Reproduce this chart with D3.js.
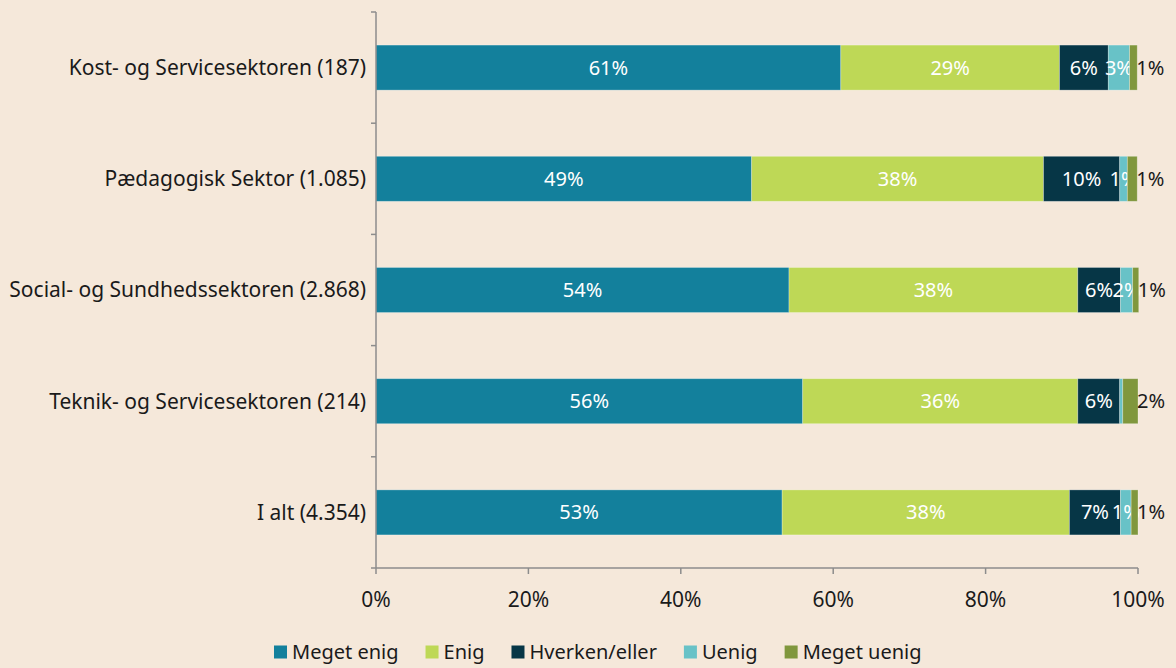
<!DOCTYPE html>
<html lang="da">
<head>
<meta charset="utf-8">
<title>Stacked bar</title>
<script src="https://d3js.org/d3.v7.min.js"></script>
<style>
  html, body { margin: 0; padding: 0; background: #f5e8da; }
  svg { display: block; font-family: "Noto Sans", "Open Sans", sans-serif; }
</style>
</head>
<body>
<div id="chart"></div>
<script>
// categories, top to bottom
var categories = ["Kost- og Servicesektoren (187)", "Pædagogisk Sektor (1.085)",
  "Social- og Sundhedssektoren (2.868)", "Teknik- og Servicesektoren (214)", "I alt (4.354)"];
var seriesNames = ["Meget enig", "Enig", "Hverken/eller", "Uenig", "Meget uenig"];
var megetEnig  = [61.0, 49.3, 54.2, 56.0, 53.3];
var enig       = [28.7, 38.3, 37.9, 36.1, 37.7];
var hverken    = [6.4, 10.0, 5.6, 5.5, 6.7];
var uenig      = [2.8, 1.0, 1.6, 0.4, 1.4];
var megetUenig = [1.0, 1.3, 0.8, 2.0, 0.9];
var xTicks = [0, 20, 40, 60, 80, 100];
var colors = ["#13809c", "#bed856", "#063646", "#68c2c7", "#80973d"];

var width = 1176, height = 668;
var margin = {left: 376, right: 38, top: 12, bottom: 100};

var rows = categories.map(function(c, i) {
  return {cat: c, "Meget enig": megetEnig[i], "Enig": enig[i], "Hverken/eller": hverken[i],
          "Uenig": uenig[i], "Meget uenig": megetUenig[i]};
});

var svg = d3.select("#chart").append("svg")
  .attr("width", width).attr("height", height);

var x = d3.scaleLinear().domain([0, 100]).range([margin.left, width - margin.right]);
var y = d3.scaleBand().domain(categories)
  .range([margin.top, height - margin.bottom])
  .paddingInner(0.595).paddingOuter(0.2975);

var stack = d3.stack().keys(seriesNames)(rows);

var layers = svg.selectAll("g.layer").data(stack).enter().append("g")
  .attr("class", "layer")
  .attr("fill", function(d, i) { return colors[i]; });

layers.selectAll("rect").data(function(d) { return d; }).enter().append("rect")
  .attr("x", function(d) { return x(d[0]); })
  .attr("y", function(d) { return y(d.data.cat); })
  .attr("width", function(d) { return x(d[1]) - x(d[0]); })
  .attr("height", y.bandwidth())
  .attr("stroke", "rgba(255,255,255,0.35)")
  .attr("stroke-width", 0.8);

// data labels
layers.each(function(layer, li) {
  d3.select(this).selectAll("text").data(layer.filter(function(d) { return d[1] - d[0] >= 0.5; }))
    .enter().append("text")
    .attr("x", function(d) { return li === 4 ? x(d[1]) - 1 : (x(d[0]) + x(d[1])) / 2; })
    .attr("y", function(d) { return y(d.data.cat) + y.bandwidth() / 2; })
    .attr("dy", "0.35em")
    .attr("text-anchor", li === 4 ? "start" : "middle")
    .attr("fill", li === 4 ? "#1a1a1a" : "#ffffff")
    .attr("font-size", 20)
    .text(function(d) { return Math.round(d[1] - d[0]) + "%"; });
});

// axes
var axisColor = "#8c8c8c";
var y0 = height - margin.bottom;
svg.append("line").attr("x1", x(0)).attr("x2", x(0)).attr("y1", margin.top).attr("y2", y0)
  .attr("stroke", axisColor).attr("stroke-width", 1.5);
svg.append("line").attr("x1", x(0) - 5).attr("x2", x(100)).attr("y1", y0).attr("y2", y0)
  .attr("stroke", axisColor).attr("stroke-width", 1.5);

var step = y.step();
categories.forEach(function(c, i) {
  var yy = y(c) - y.paddingOuter() * step;
  svg.append("line").attr("x1", x(0) - 5).attr("x2", x(0)).attr("y1", yy).attr("y2", yy)
    .attr("stroke", axisColor).attr("stroke-width", 1.5);
});

svg.selectAll("line.xt").data(xTicks).enter().append("line")
  .attr("x1", function(d) { return x(d); }).attr("x2", function(d) { return x(d); })
  .attr("y1", y0).attr("y2", y0 + 6)
  .attr("stroke", axisColor).attr("stroke-width", 1.5);

svg.selectAll("text.xl").data(xTicks).enter().append("text")
  .attr("x", function(d) { return x(d); })
  .attr("y", y0 + 39)
  .attr("text-anchor", "middle")
  .attr("fill", "#1a1a1a")
  .attr("font-size", 21)
  .text(function(d) { return d + "%"; });

svg.selectAll("text.cat").data(categories).enter().append("text")
  .attr("x", x(0) - 10)
  .attr("y", function(d) { return y(d) + y.bandwidth() / 2; })
  .attr("dy", "0.35em")
  .attr("text-anchor", "end")
  .attr("fill", "#1a1a1a")
  .attr("font-size", 21)
  .text(function(d) { return d; });

// legend
var legend = svg.append("g");
var lx = 274, ly = 652;
seriesNames.forEach(function(s, i) {
  legend.append("rect").attr("x", lx).attr("y", ly - 6.5).attr("width", 13).attr("height", 13)
    .attr("fill", colors[i]);
  var t = legend.append("text").attr("x", lx + 18).attr("y", ly).attr("dy", "0.35em")
    .attr("fill", "#1a1a1a").attr("font-size", 20).text(s);
  lx += 18 + t.node().getComputedTextLength() + 27;
});
</script>
</body>
</html>
